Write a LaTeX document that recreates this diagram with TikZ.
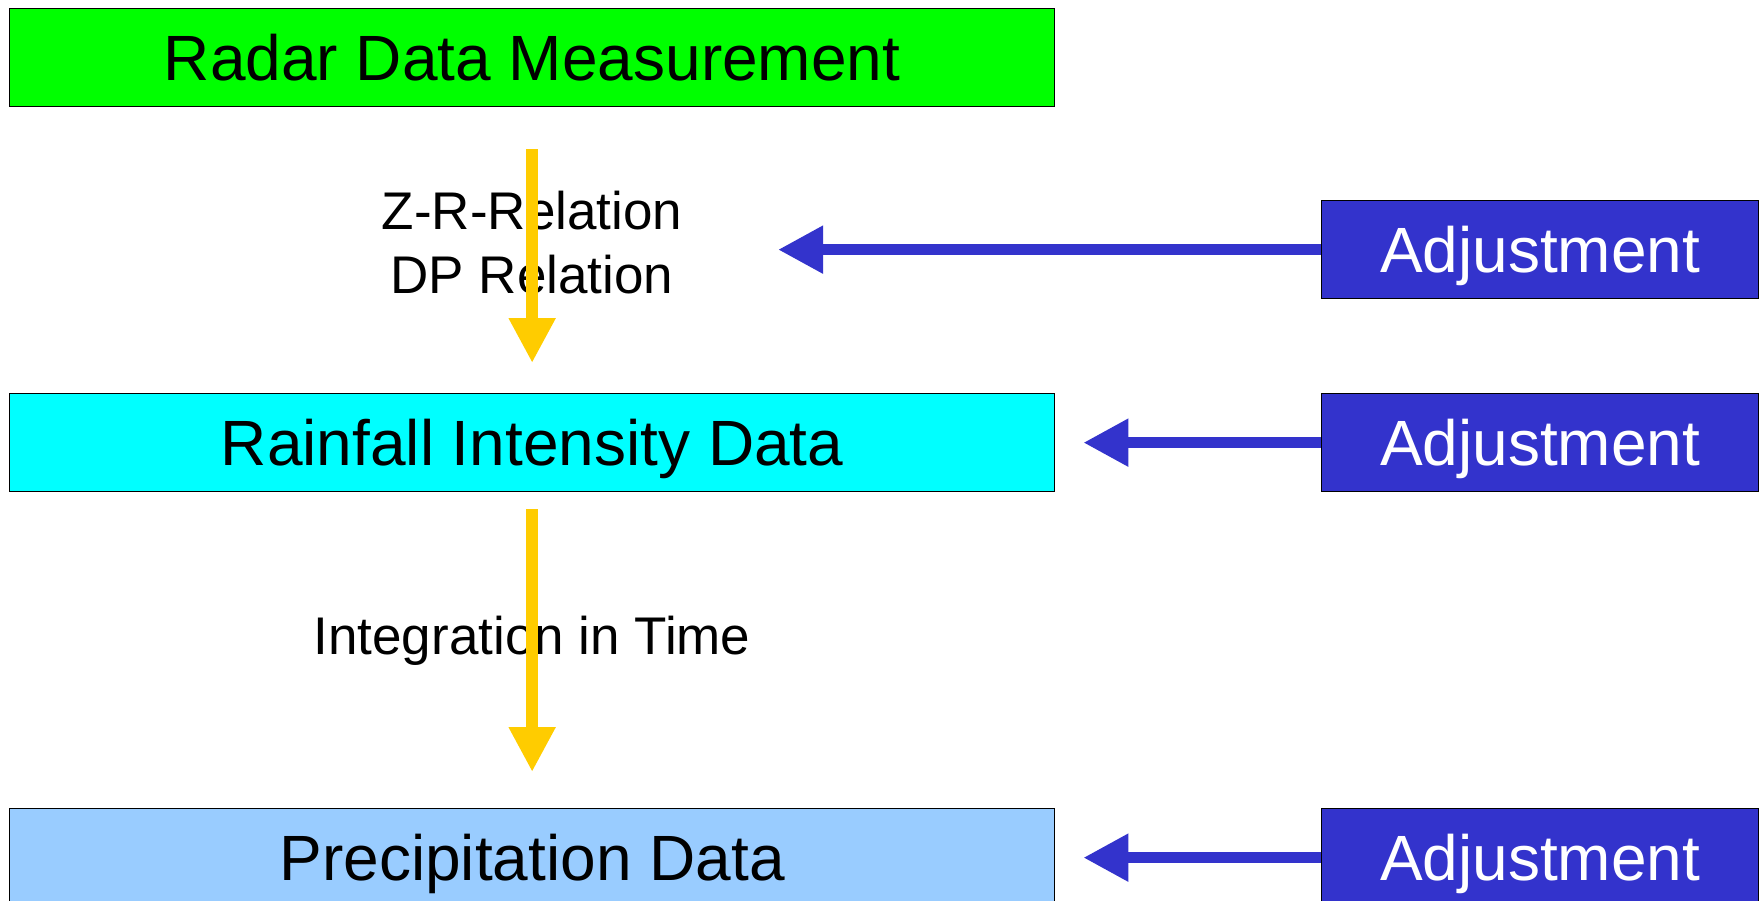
\documentclass[tikz,border=0pt]{standalone}
\usepackage{fontspec}
\setmainfont{Liberation Sans}
\usetikzlibrary{arrows.meta}
\definecolor{boxgreen}{HTML}{00FF00}
\definecolor{boxcyan}{HTML}{00FFFF}
\definecolor{boxlight}{HTML}{99CCFF}
\definecolor{adjblue}{HTML}{3333CC}
\definecolor{arrowyellow}{HTML}{FFCC00}
\begin{document}
\begin{tikzpicture}[x=1pt,y=-1pt,
  mainbox/.style={draw=black, line width=1.3pt, minimum width=1045pt, minimum height=98pt,
    inner sep=0pt, anchor=north west, font=\fontsize{64}{76}\selectfont,
    text height=46pt, text depth=0pt},
  adjbox/.style={mainbox, fill=adjblue, text=white, minimum width=437pt},
  lbl/.style={font=\fontsize{53}{64}\selectfont, anchor=base, inner sep=0pt},
  yarrow/.style={draw=arrowyellow, line width=12pt, -{Triangle[length=45pt,width=44pt]}},
  barrow/.style={draw=adjblue, line width=11pt, -{Triangle[length=45pt,width=45pt]}}
]
\useasboundingbox (0,0) rectangle (1764,901);

\node[mainbox, fill=boxgreen] (radar) at (9,8) {Radar Data Measurement};
\node[mainbox, fill=boxcyan] (rain) at (9,393) {Rainfall Intensity Data};
\node[mainbox, fill=boxlight] (precip) at (9,808) {Precipitation Data};
\node[adjbox] (adj1) at (1321,200) {Adjustment};
\node[adjbox] (adj2) at (1321,393) {Adjustment};
\node[adjbox] (adj3) at (1321,808) {Adjustment};

\node[lbl] (zr) at (532,230) {Z-R-Relation};
\node[lbl] (dp) at (532,294) {DP Relation};
\node[lbl] (integ) at (532,654) {Integration in Time};

\path (adj1.west) -- ++(-543,0) coordinate (zrtip);

\draw[yarrow, shorten <=42pt, shorten >=30pt] (radar.south) -- (rain.north);
\draw[yarrow, shorten <=17pt, shorten >=36pt] (rain.south) -- (precip.north);
\draw[barrow] (adj1.west) -- (zrtip);
\draw[barrow, shorten >=28pt] (adj2.west) -- (rain.east);
\draw[barrow, shorten >=28pt] (adj3.west) -- (precip.east);
\end{tikzpicture}
\end{document}
